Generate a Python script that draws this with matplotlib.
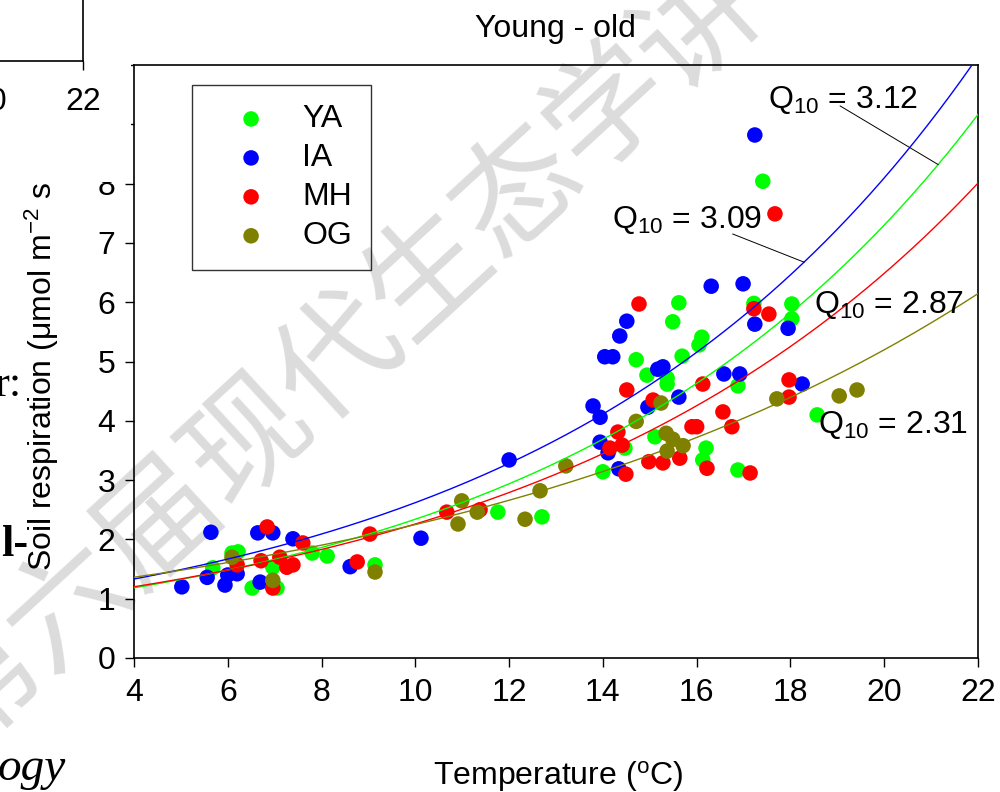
import numpy as np
import matplotlib
matplotlib.use('Agg')
import matplotlib.pyplot as plt
from matplotlib.patches import Rectangle

plt.rcParams['font.family'] = ['Liberation Sans', 'DejaVu Sans']
plt.rcParams['mathtext.default'] = 'regular'

# soil temperature (oC) and soil respiration for each stand
ya_t = [17.41, 17.22, 18.03, 18.03, 15.62, 15.49, 16.11, 16.05, 14.71, 15.69, 14.94,
        15.37, 15.37, 16.88, 18.57, 15.11, 14.47, 14.00, 16.20, 16.13, 16.88, 11.76,
        12.70, 7.80, 8.12, 6.09, 6.22, 5.68, 6.52, 7.05, 6.96, 9.14]
ya_r = [8.04, 5.98, 5.97, 5.72, 5.99, 5.67, 5.41, 5.28, 5.03, 5.09, 4.77,
        4.72, 4.62, 4.59, 4.10, 3.73, 3.54, 3.14, 3.54, 3.34, 3.17, 2.46,
        2.38, 1.77, 1.72, 1.77, 1.79, 1.52, 1.18, 1.18, 1.53, 1.57]

ia_t = [17.24, 16.31, 16.99, 17.24, 17.95, 14.51, 14.36, 14.04, 14.21, 15.17, 15.28,
        16.58, 16.92, 18.25, 14.96, 15.62, 13.79, 13.94, 13.94, 14.11, 14.34, 12.00,
        10.12, 8.61, 7.39, 6.96, 6.64, 5.64, 5.02, 5.56, 5.94, 6.00, 6.20, 6.69]
ia_r = [8.82, 6.27, 6.31, 5.63, 5.56, 5.68, 5.43, 5.08, 5.08, 4.87, 4.91,
        4.79, 4.79, 4.62, 4.23, 4.40, 4.25, 4.06, 3.64, 3.46, 3.19, 3.34,
        2.02, 1.54, 2.01, 2.11, 2.11, 2.12, 1.20, 1.36, 1.23, 1.40, 1.42, 1.28]

mh_t = [17.67, 14.77, 17.22, 17.54, 14.51, 16.13, 17.97, 17.97, 15.07, 16.56, 15.90,
        16.00, 16.75, 14.32, 14.15, 14.41, 14.49, 14.98, 15.28, 15.64, 16.22, 17.14,
        10.67, 11.38, 9.03, 8.76, 6.84, 7.60, 7.11, 7.39, 7.26, 6.71, 6.20, 6.96]
mh_r = [7.49, 5.97, 5.89, 5.80, 4.52, 4.62, 4.69, 4.40, 4.35, 4.15, 3.90,
        3.90, 3.90, 3.81, 3.54, 3.59, 3.10, 3.31, 3.29, 3.37, 3.20, 3.12,
        2.46, 2.50, 2.09, 1.62, 2.21, 1.94, 1.70, 1.57, 1.53, 1.64, 1.57, 1.18]

og_t = [19.42, 19.04, 17.71, 15.24, 14.71, 15.35, 15.49, 15.71, 15.37, 13.21, 12.66,
        10.99, 11.32, 10.91, 12.34, 9.14, 6.96, 6.09]
og_r = [4.52, 4.42, 4.37, 4.30, 3.99, 3.79, 3.69, 3.58, 3.49, 3.24, 2.82,
        2.65, 2.46, 2.26, 2.34, 1.45, 1.31, 1.70]

groups = ['YA', 'IA', 'MH', 'OG']
colors = ['#00ff00', '#0000ff', '#ff0000', '#808000']
temps = [ya_t, ia_t, mh_t, og_t]
resp = [ya_r, ia_r, mh_r, og_r]

# exponential fits R = R10 * Q10^((T-10)/10)
q10 = [3.12, 3.09, 2.87, 2.31]
r10 = [2.34, 2.62, 2.26, 2.25]

FS = 23


def fit(i, t):
    return r10[i] * q10[i] ** ((np.asarray(t) - 10) / 10)


fig = plt.figure(figsize=(10, 7.92), dpi=100)

# watermark behind the plot
fig.text(0.430, 1 - 275 / 792, '第六届现代生态学讲习班', rotation=42.6, rotation_mode='anchor',
         ha='center', va='center', fontsize=88, color='#dcdcdc',
         family=['Noto Sans CJK SC', 'DejaVu Sans'], zorder=-1)

ax = fig.add_axes([0.134, 0.1692, 0.844, 0.7487])
ax.set_facecolor('none')

for t, r, c, g in zip(temps, resp, colors, groups):
    ax.scatter(t, r, s=125, color=c, edgecolors='none', label=g, zorder=2)

tt = np.linspace(4, 22, 300)
for i, c in enumerate(colors):
    ax.plot(tt, fit(i, tt), color=c, lw=1.0, zorder=3)

# Q10 labels
ax.text(17.53, 9.27, 'Q$_{10}$ = %.2f' % q10[0], fontsize=FS, va='baseline', zorder=5)
ax.plot([19.06, 21.15], [9.31, fit(0, 21.15)], color='k', lw=0.7, zorder=4)
ax.text(14.20, 7.25, 'Q$_{10}$ = %.2f' % q10[1], fontsize=FS, va='baseline', zorder=5)
ax.plot([16.77, 18.29], [7.15, fit(1, 18.29)], color='k', lw=0.7, zorder=4)
ax.text(18.50, 5.82, 'Q$_{10}$ = %.2f' % q10[2], fontsize=FS, va='baseline', zorder=5)
ax.text(18.58, 3.80, 'Q$_{10}$ = %.2f' % q10[3], fontsize=FS, va='baseline', zorder=5)

ax.set_xlim(4, 22)
ax.set_ylim(0, 10)
ax.set_xticks(range(4, 23, 2))
ax.set_yticks(range(0, 11))
ax.tick_params(direction='out', length=6.5, width=1, labelsize=FS)
ax.tick_params(axis='x', pad=8)
ax.tick_params(axis='y', pad=7)
for s in ax.spines.values():
    s.set_linewidth(1.2)

leg = ax.legend(loc='upper left', bbox_to_anchor=(0.0687, 0.966), borderaxespad=0,
                fancybox=False, edgecolor='k', facecolor='none', fontsize=FS,
                handlelength=2.5, handletextpad=0.35, borderpad=0.6, labelspacing=0.28,
                scatterpoints=1)
leg.get_frame().set_linewidth(1.0)

fig.text(0.555, 1 - 37 / 792, 'Young - old', ha='center', va='baseline', fontsize=FS)
fig.text(0.558, 1 - 785 / 792, 'Temperature ($^{o}$C)', ha='center', va='baseline', fontsize=FS)
fig.text(0.042, 1 - 571 / 792, 'Soil respiration ($\\mu$mol m$^{-2}$ s$^{-1}$)',
         rotation=90, ha='center', va='bottom', fontsize=FS)

# neighbouring panel and page text
fig.text(0.066, 1 - 780 / 792, 'ogy', ha='right', va='baseline', fontsize=34,
         family='Liberation Serif', style='italic')
fig.text(0.021, 1 - 396 / 792, 'r:', ha='right', va='baseline', fontsize=32,
         family='Liberation Serif')
fig.text(0.028, 1 - 556 / 792, 'l-', ha='right', va='baseline', fontsize=32,
         family='Liberation Serif', weight='bold')

cover = Rectangle((0, 1 - 182 / 792), 0.131, 182 / 792, transform=fig.transFigure,
                  facecolor='white', edgecolor='none', zorder=4)
fig.add_artist(cover)

ax2 = fig.add_axes([-0.3, 1 - 61 / 792, 0.383, 0.3], zorder=5)
ax2.set_xlim(22 - 383 / 46.89, 22)
ax2.set_xticks(range(14, 23, 2))
ax2.set_yticks([])
ax2.spines['top'].set_visible(False)
ax2.spines['left'].set_visible(False)
for s in ax2.spines.values():
    s.set_linewidth(1.2)
ax2.tick_params(direction='out', length=6.5, width=1, labelsize=FS, pad=12)

fig.savefig('out.png', dpi=100)
